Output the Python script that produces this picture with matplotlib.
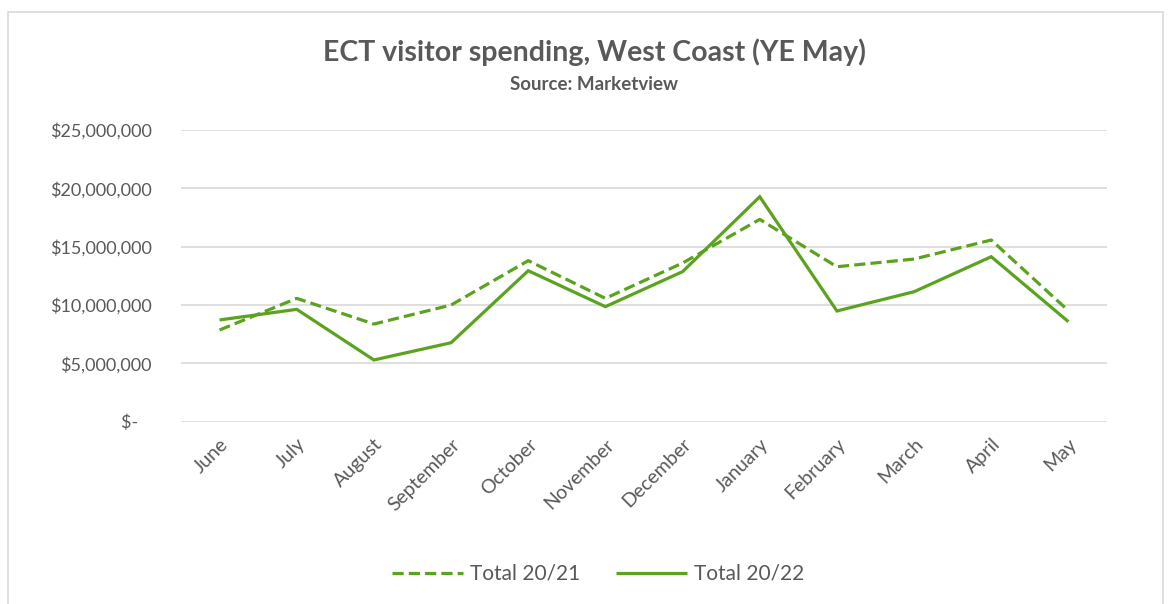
import matplotlib
matplotlib.use("Agg")
import matplotlib.pyplot as plt
from matplotlib.patches import Rectangle
from matplotlib.ticker import FuncFormatter

months = ["June", "July", "August", "September", "October", "November",
          "December", "January", "February", "March", "April", "May"]
total_2021 = [7.86e6, 10.57e6, 8.37e6, 10.0e6, 13.8e6, 10.57e6,
              13.6e6, 17.34e6, 13.28e6, 13.94e6, 15.57e6, 9.51e6]
total_2022 = [8.72e6, 9.63e6, 5.29e6, 6.77e6, 12.94e6, 9.86e6,
              12.86e6, 19.28e6, 9.49e6, 11.14e6, 14.14e6, 8.57e6]
yticks = [0, 5e6, 10e6, 15e6, 20e6, 25e6]

GREEN = "#5BA31F"
TXT = "#595959"
plt.rcParams['font.family'] = ['Lato', 'DejaVu Sans']

W, H = 1169, 604
fig = plt.figure(figsize=(W / 100, H / 100), dpi=100)
fig.patch.set_facecolor("white")

# chart border
fig.patches.append(Rectangle((8 / W, -0.01), (1163 - 8) / W, (H - 12) / H + 0.01,
                             transform=fig.transFigure, fill=False,
                             edgecolor="#D9D9D9", linewidth=1.2))

ax = fig.add_axes([181 / W, 1 - 421.7 / H, (1107 - 181) / W, (421.7 - 130) / H])
x = list(range(len(months)))
ax.plot(x, total_2021, color=GREEN, lw=2.3, linestyle=(0, (3.5, 1.6)),
        dash_capstyle="butt", label="Total 20/21", zorder=3)
ax.plot(x, total_2022, color=GREEN, lw=2.3, solid_capstyle="butt",
        solid_joinstyle="miter", label="Total 20/22", zorder=3)

ax.set_xlim(-0.5, len(months) - 0.5)
ax.set_ylim(0, 25e6)
ax.set_yticks(yticks)

def fmt(v, pos):
    if v == 0:
        return "$-   "
    return "${:,.0f}".format(v)

ax.yaxis.set_major_formatter(FuncFormatter(fmt))
ax.grid(axis="y", color="#D9D9D9", linewidth=1.2)
ax.set_axisbelow(True)
for s in ax.spines.values():
    s.set_visible(False)
ax.tick_params(axis="both", length=0, colors=TXT)
ax.tick_params(axis="y", pad=21, labelsize=13)
ax.tick_params(axis="x", pad=10, labelsize=14)
ax.set_xticks(x)
ax.set_xticklabels(months, rotation=45, ha="right", rotation_mode="anchor",
                   fontsize=14, color=TXT)

fig.text(594 / W, 1 - 52 / H, "ECT visitor spending, West Coast (YE May)",
         ha="center", va="center", fontsize=20.5, fontweight="bold", color=TXT)
fig.text(594 / W, 1 - 85 / H, "Source: Marketview", ha="center", va="center",
         fontsize=13.5, fontweight="bold", color=TXT)

leg = fig.legend(loc="center", bbox_to_anchor=(598 / W, 1 - 574 / H), ncol=2,
                 frameon=False, fontsize=15, handlelength=3.4, columnspacing=1.7,
                 handletextpad=0.35)
for t in leg.get_texts():
    t.set_color(TXT)

fig.savefig("out.png", dpi=100, facecolor="white")
